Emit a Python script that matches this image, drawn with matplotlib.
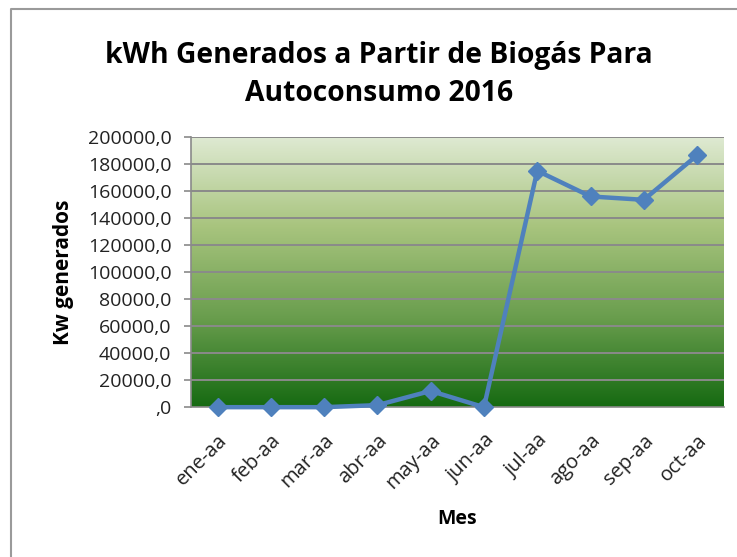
import matplotlib
matplotlib.use("Agg")
import matplotlib.pyplot as plt
import matplotlib.ticker as mt
import matplotlib.transforms as mtrans
from matplotlib.colors import LinearSegmentedColormap
from matplotlib.lines import Line2D
import numpy as np

# Data
months = ["ene-aa", "feb-aa", "mar-aa", "abr-aa", "may-aa",
          "jun-aa", "jul-aa", "ago-aa", "sep-aa", "oct-aa"]
kwh = [0, 0, 0, 1500, 12000, 0, 175000, 156000, 153500, 186500]

font = "Open Sans"

fig = plt.figure(figsize=(7.37, 5.57), dpi=100)
ax = fig.add_axes([0.259, 0.269, 0.723, 0.485])

x = np.arange(len(months))
ax.set_xlim(-0.5, len(months) - 0.5)
ax.set_ylim(0, 200000)

# Background gradient (dark green at bottom, pale at top)
cmap = LinearSegmentedColormap.from_list("g", ["#166a12", "#6a9e4e", "#a8c47e", "#dfead3"])
grad = np.linspace(0, 1, 256).reshape(-1, 1)
ax.imshow(grad, cmap=cmap, aspect="auto", origin="lower",
          extent=[-0.5, len(months) - 0.5, 0, 200000], zorder=0)

# Gridlines
for v in range(20000, 200001, 20000):
    ax.axhline(v, color="#8a8a8a", lw=1.4, zorder=1)

ax.plot(x, kwh, color="#4f81bd", lw=3.2, marker="D", markersize=9,
        zorder=3, clip_on=False)

# Axis formatting
def fmt(v, pos):
    if v == 0:
        return ",0"
    return ("%.1f" % v).replace(".", ",")

ax.yaxis.set_major_locator(mt.MultipleLocator(20000))
ax.yaxis.set_major_formatter(mt.FuncFormatter(fmt))
ax.set_xticks(x)
ax.set_xticklabels(months, rotation=45, ha="right", rotation_mode="anchor",
                   fontsize=14.5, family=font, color="#222222")
shift = mtrans.ScaledTranslation(-10 / 100, 0, fig.dpi_scale_trans)
for lab in ax.get_xticklabels():
    lab.set_transform(lab.get_transform() + shift)
for lab in ax.get_yticklabels():
    lab.set_fontsize(14)
    lab.set_family(font)
    lab.set_color("#222222")
ax.tick_params(axis="y", length=5, color="#8a8a8a", width=1.2, pad=9)
ax.tick_params(axis="x", length=0, pad=17)

for s in ["top", "right"]:
    ax.spines[s].set_visible(False)
ax.spines["left"].set_color("#8a8a8a")
ax.spines["bottom"].set_color("#8a8a8a")
ax.spines["left"].set_linewidth(1.2)
ax.spines["bottom"].set_linewidth(1.2)

ax.set_ylabel("Kw generados", fontsize=15, fontweight="bold", family=font, labelpad=10)
ax.set_xlabel("Mes", fontsize=14, fontweight="bold", family=font, labelpad=11)

fig.text(0.514, 0.866, "kWh Generados a Partir de Biogás Para\nAutoconsumo 2016",
         ha="center", va="center", fontsize=20.3, fontweight="bold",
         family=font, linespacing=1.4)

# Outer chart border (only top and left edges are visible)
fig.add_artist(Line2D([0.015, 0.015, 1.0], [0.0, 0.984, 0.984], transform=fig.transFigure,
                      color="#9a9a9a", lw=1.5))

fig.savefig("out.png", dpi=100)
